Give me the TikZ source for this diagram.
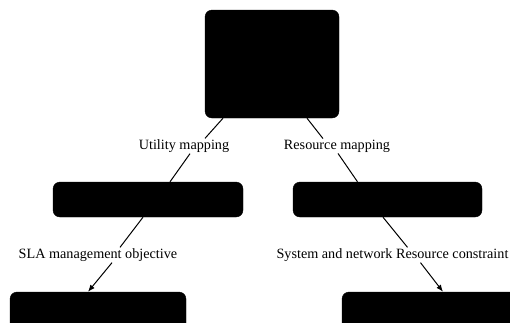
\documentclass[tikz,border=0pt]{standalone}
\usepackage{fontspec}
\setmainfont{Liberation Serif}
\usepackage{tikz}
\usetikzlibrary{arrows.meta}
\tikzstyle{block}=[rectangle,rounded corners=7pt,draw=black,fill=black,inner sep=0pt]
\tikzstyle{lbl}=[inner sep=1pt,text=black,font=\fontsize{14.2}{16}\selectfont]
\tikzstyle{link}=[-,line width=1pt]
\tikzstyle{feeds}=[->,line width=1pt,>={Latex[length=7pt,width=5.5pt]}]

\begin{document}
\begin{tikzpicture}[x=1pt,y=-1pt]

  \useasboundingbox (0,0) rectangle (510,322);
  \clip (0,0) rectangle (510,322);

  \node[block,minimum width=134pt,minimum height=108pt] (top) at (272,64) {};
  \node[block,minimum width=190pt,minimum height=35pt] (midL) at (148,199.5) {};
  \node[block,minimum width=189pt,minimum height=35pt] (midR) at (387.5,199.5) {};
  \node[block,minimum width=176pt,minimum height=48pt] (botL) at (98,316) {};
  \node[block,minimum width=178pt,minimum height=48pt] (botR) at (431,316) {};

  \node[lbl] (util) at (184,146) {Utility mapping};
  \node[lbl] (res) at (337,146) {Resource mapping};
  \node[lbl] (sla) at (98,255) {SLA management objective};
  \node[lbl] (sys) at (392.5,255) {System and network Resource constraint};

  \draw[link] ([xshift=-49pt]top.south)--([xshift=21pt]util.north);
  \draw[link] ([xshift=35pt]top.south)--([xshift=-14pt]res.north);
  \draw[link] ([xshift=6pt]util.south)--([xshift=22pt]midL.north);
  \draw[link] ([xshift=1pt]res.south)--([xshift=-30pt]midR.north);
  \draw[link] ([xshift=-5pt]midL.south)--([xshift=22pt]sla.north);
  \draw[link] ([xshift=-4.5pt]midR.south)--([xshift=15pt]sys.north);

  \draw[feeds] ([xshift=14pt]sla.south)--([xshift=-10pt]botL.north);
  \draw[feeds] ([xshift=28pt]sys.south)--([xshift=12pt]botR.north);

\end{tikzpicture}
\end{document}
